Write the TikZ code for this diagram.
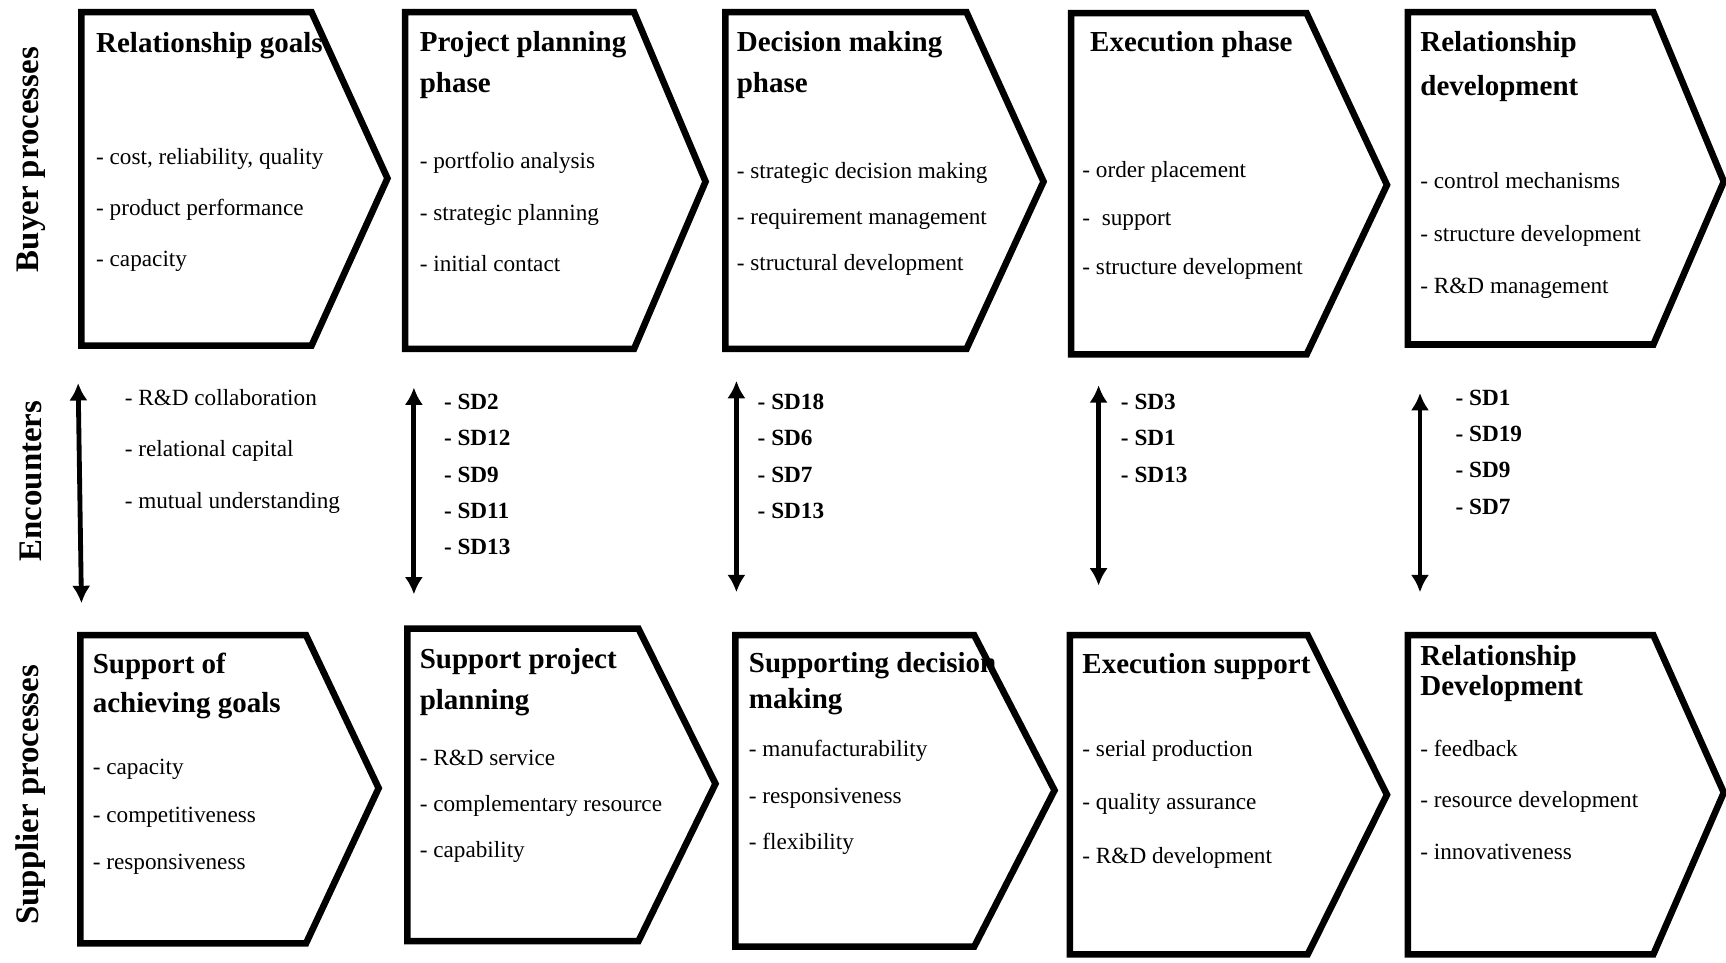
\documentclass[tikz,border=0pt]{standalone}
\usepackage{fontspec}
\setmainfont{Liberation Serif}
\usetikzlibrary{arrows.meta}

\begin{document}
\begin{tikzpicture}[x=0.02cm,y=-0.02cm,
	chev/.style={draw,line width=3.4pt,line join=miter},
	phase/.style={font=\fontsize{15}{#1}\selectfont\bfseries,align=left,anchor=base west,inner sep=0pt},
	phase/.default=0.74cm,
	item/.style={font=\fontsize{12}{#1}\selectfont,align=left,anchor=base west,inner sep=0pt},
	item/.default=0.94cm,
	sd/.style={font=\fontsize{12}{0.66cm}\selectfont\bfseries,align=left,anchor=base west,inner sep=0pt},
	side/.style={font=\fontsize{17}{20}\selectfont\bfseries,rotate=90,inner sep=0pt},
	enc/.style={line width=2.5pt,{Latex[length=9pt,width=9.5pt]}-{Latex[length=9pt,width=9.5pt]}}]
	\useasboundingbox (0,0) rectangle (1568,874);
	% buyer processes (base = last line)
	\draw[chev] (74,11) -- (283,11) -- (352,162) -- (283,314) -- (74,314) -- cycle;
	\draw[chev] (368,11) -- (576,11) -- (641,165) -- (576,317) -- (368,317) -- cycle;
	\draw[chev] (659,11) -- (878,11) -- (948,165) -- (878,317) -- (659,317) -- cycle;
	\draw[chev] (973,12) -- (1187,12) -- (1260,168) -- (1187,322) -- (973,322) -- cycle;
	\draw[chev] (1279,11) -- (1502,11) -- (1566,165) -- (1502,313) -- (1279,313) -- cycle;
	\node[phase] (b1t) at (87,48) {Relationship goals};
	\node[item=0.93cm] (b1i) at (87,242) {- cost, reliability, quality\\- product performance\\- capacity};
	\node[phase] (b2t) at (381,84) {Project planning\\phase};
	\node[item] (b2i) at (381,247) {- portfolio analysis\\- strategic planning\\- initial contact};
	\node[phase] (b3t) at (669,84) {Decision making\\phase};
	\node[item=0.84cm] (b3i) at (669,246) {- strategic decision making\\- requirement management\\- structural development};
	\node[phase] (b4t) at (990,47) {Execution phase};
	\node[item=0.88cm] (b4i) at (983,249) {- order placement\\- \ support\\- structure development};
	\node[phase=0.80cm] (b5t) at (1290,87) {Relationship\\development};
	\node[item=0.96cm] (b5i) at (1290,267) {- control mechanisms\\- structure development\\- R\&D management};
	% encounters
	\coordinate (a1t) at (71,348); \coordinate (a1b) at (74,548);
	\coordinate (a2t) at (376,352); \coordinate (a2b) at (376,540);
	\coordinate (a3t) at (669,346); \coordinate (a3b) at (669,538);
	\coordinate (a4t) at (998,350); \coordinate (a4b) at (998,532);
	\coordinate (a5t) at (1290,357); \coordinate (a5b) at (1290,538);
	\draw[enc] (a1t) -- (a1b);
	\draw[enc] (a2t) -- (a2b);
	\draw[enc] (a3t) -- (a3b);
	\draw[enc] (a4t) -- (a4b);
	\draw[enc] (a5t) -- (a5b);
	\node[item] (e1) at (113,462) {- R\&D collaboration\\- relational capital\\- mutual understanding};
	\node[sd] (e2) at (403,504) {- SD2\\- SD12\\- SD9\\- SD11\\- SD13};
	\node[sd] (e3) at (688,471) {- SD18\\- SD6\\- SD7\\- SD13};
	\node[sd] (e4) at (1018,438) {- SD3\\- SD1\\- SD13};
	\node[sd] (e5) at (1322,467) {- SD1\\- SD19\\- SD9\\- SD7};
	% supplier processes
	\draw[chev] (73,577) -- (278,577) -- (344,716) -- (278,857) -- (73,857) -- cycle;
	\draw[chev] (370,571) -- (580,571) -- (650,712) -- (580,855) -- (370,855) -- cycle;
	\draw[chev] (668,577) -- (885,577) -- (958,718) -- (885,860) -- (668,860) -- cycle;
	\draw[chev] (972,577) -- (1188,577) -- (1260,722) -- (1188,867) -- (972,867) -- cycle;
	\draw[chev] (1279,577) -- (1502,577) -- (1566,720) -- (1502,867) -- (1279,867) -- cycle;
	\node[phase=0.70cm] (s1t) at (84,647) {Support of\\achieving goals};
	\node[item=0.86cm] (s1i) at (84,790) {- capacity\\- competitiveness\\- responsiveness};
	\node[phase=0.76cm] (s2t) at (381,645) {Support project\\planning};
	\node[item=0.84cm] (s2i) at (381,779) {- R\&D service\\- complementary resource\\- capability};
	\node[phase=0.66cm] (s3t) at (680,644) {Supporting decision\\making};
	\node[item=0.85cm] (s3i) at (680,772) {- manufacturability\\- responsiveness\\- flexibility};
	\node[phase] (s4t) at (983,612) {Execution support};
	\node[item=0.97cm] (s4i) at (983,784) {- serial production\\- quality assurance\\- R\&D development};
	\node[phase=0.54cm] (s5t) at (1290,632) {Relationship\\Development};
	\node[item=0.94cm] (s5i) at (1290,781) {- feedback\\- resource development\\- innovativeness};
	% row labels
	\node[side] (buyer) at (28,145) {Buyer processes};
	\node[side] (encounters) at (28,437) {Encounters};
	\node[side] (supplier) at (28,722) {Supplier processes};
\end{tikzpicture}
\end{document}
